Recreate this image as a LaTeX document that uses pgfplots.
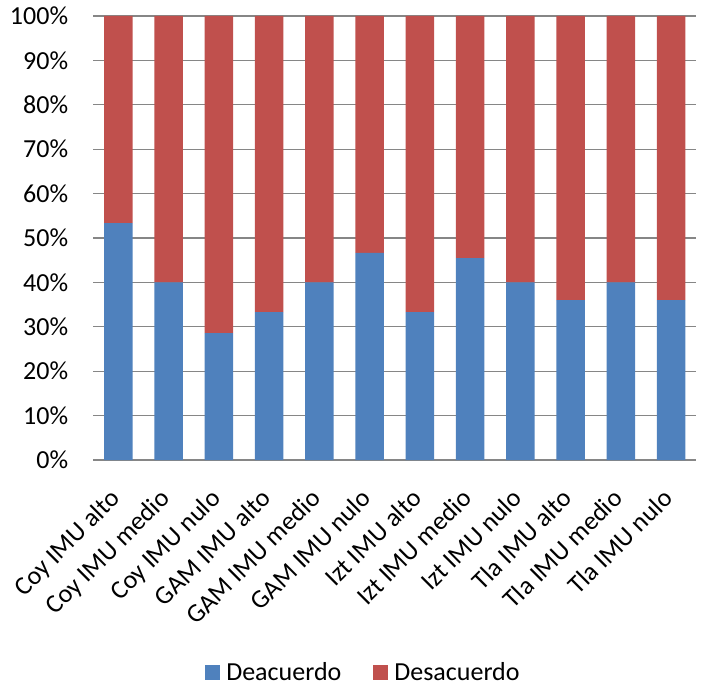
\documentclass[border=0pt]{standalone}
\usepackage{fontspec}
\setmainfont{Carlito}
\usepackage{pgfplots}
\pgfplotsset{compat=1.18}
\definecolor{cblue}{HTML}{4F81BD}
\definecolor{cred}{HTML}{C0504D}
\definecolor{cgrid}{RGB}{134,134,134}
\begin{document}
\begin{tikzpicture}
\path[use as bounding box] (-93.3bp,-226bp) rectangle (607.7bp,460bp);
\begin{axis}[
  scale only axis,
  width=603bp, height=444bp,
  at={(0,0)}, anchor=south west,
  ybar stacked,
  bar width=28.5bp,
  xmin=-0.5, xmax=11.5,
  ymin=0, ymax=100,
  axis line style={draw=none},
  major tick length=0pt,
  ymajorgrids,
  grid style={cgrid, line width=1.3bp},
  ytick={0,10,...,100},
  yticklabels={0\%,10\%,20\%,30\%,40\%,50\%,60\%,70\%,80\%,90\%,100\%},
  yticklabel style={font=\fontsize{26bp}{30bp}\selectfont, inner sep=0pt, anchor=east, xshift=-25bp},
  xtick={0,...,11},
  xticklabels={Coy IMU alto,Coy IMU medio,Coy IMU nulo,GAM IMU alto,GAM IMU medio,GAM IMU nulo,Izt IMU alto,Izt IMU medio,Izt IMU nulo,Tla IMU alto,Tla IMU medio,Tla IMU nulo},
  xticklabel style={font=\fontsize{26bp}{30bp}\selectfont, xshift=3bp, yshift=-40bp, rotate=45, anchor=base east, inner sep=0pt},
  legend style={draw=none, at={(0.448,-0.4775)}, anchor=center, legend columns=2,
    font=\fontsize{26bp}{30bp}\selectfont,
    /tikz/every even column/.append style={column sep=30bp}},
  legend image code/.code={\fill[#1] (0bp,-7.5bp) rectangle (15bp,7.5bp); \path (19bp,0bp);},
]
\addplot[fill=cblue, draw=none] coordinates {(0,53.33) (1,40) (2,28.57) (3,33.33) (4,40) (5,46.67) (6,33.33) (7,45.45) (8,40) (9,36) (10,40) (11,36)};
\addplot[fill=cred, draw=none] coordinates {(0,46.67) (1,60) (2,71.43) (3,66.67) (4,60) (5,53.33) (6,66.67) (7,54.55) (8,60) (9,64) (10,60) (11,64)};
\legend{Deacuerdo,Desacuerdo}
\end{axis}
\end{tikzpicture}
\end{document}
